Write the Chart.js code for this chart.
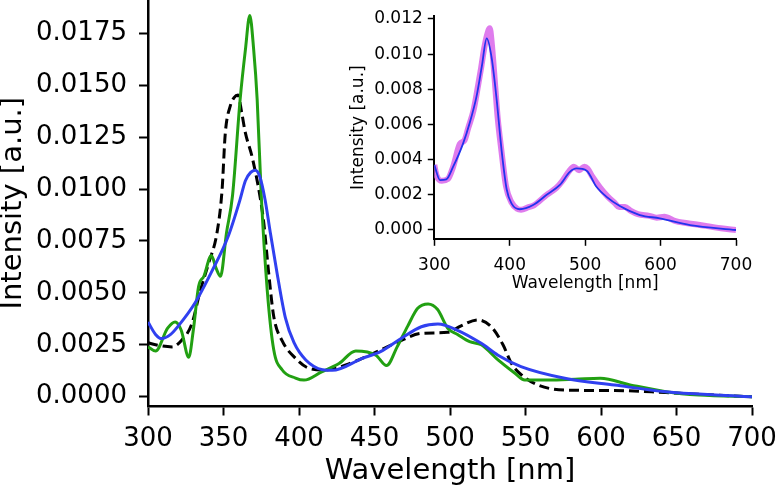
<!DOCTYPE html>
<html>
<head>
<meta charset="utf-8">
<script src="https://cdn.jsdelivr.net/npm/chart.js@4.4.1/dist/chart.umd.min.js"></script>
<style>
  html, body { margin: 0; padding: 0; background: #fff; }
  #wrap { position: relative; width: 776px; height: 487px; }
  #mainChart { position: absolute; left: 0; top: 0; }
  #insetChart { position: absolute; left: 340px; top: 0; }
</style>
</head>
<body>
<div id="wrap">
  <canvas id="mainChart" width="776" height="487"></canvas>
  <canvas id="insetChart" width="420" height="300"></canvas>
</div>
<script>
// main panel: green spectrum
const greenNm = [300, 305, 313, 318, 322, 327, 330, 333.5, 337, 342, 345, 348, 352, 356, 361, 364.5, 367.4, 370, 372.3, 375, 379, 383.3, 388.8, 397.7, 403.3, 415, 426.5, 437.6, 450.9, 458, 465, 472, 478.6, 485.5, 491.8, 498.5, 505, 513, 520.7, 531.8, 543, 549.5, 565, 583, 599.5, 620, 643, 665, 700];
const greenVal = [0.0024, 0.0022, 0.0033, 0.0036, 0.0032, 0.0019, 0.0032, 0.0053, 0.0058, 0.0068, 0.0062, 0.0058, 0.0079, 0.0097, 0.0143, 0.0167, 0.01835, 0.0167, 0.0143, 0.0097, 0.0051, 0.00225, 0.0013, 0.0009, 0.0008, 0.0012, 0.0016, 0.0022, 0.0020, 0.0015, 0.0024, 0.0034, 0.00426, 0.00447, 0.0042, 0.0033, 0.0030, 0.00265, 0.0025, 0.00177, 0.00113, 0.0008, 0.0008, 0.00084, 0.00089, 0.00056, 0.00024, 0.00008, 0.0];

// main panel: black dashed spectrum
const blackNm = [300, 305, 316, 322, 329, 334.6, 340, 345.7, 349, 351.2, 354.5, 357, 359.6, 362, 364.5, 368.9, 374.5, 376.7, 380, 383.3, 388.8, 397.7, 406.6, 417.7, 431, 453, 467.6, 481, 498.5, 507, 518.4, 527.3, 535.1, 540.7, 547.3, 558.4, 576, 609, 643, 675, 700];
const blackVal = [0.0026, 0.0025, 0.0024, 0.0027, 0.0035, 0.0051, 0.0064, 0.0079, 0.0099, 0.0127, 0.0140, 0.0144, 0.01453, 0.0137, 0.0127, 0.01156, 0.0095, 0.00835, 0.0059, 0.00385, 0.0027, 0.00185, 0.00137, 0.00129, 0.00153, 0.00222, 0.0027, 0.00305, 0.0031, 0.0034, 0.0037, 0.00337, 0.0025, 0.0016, 0.00105, 0.00056, 0.00032, 0.0003, 0.0002, 0.00008, 0.0];

// main panel: blue spectrum
const blueNm = [300, 305, 309, 315, 320, 331, 342, 353, 361, 364.5, 368, 371, 374, 377.5, 381, 385.6, 391, 396.7, 404.5, 415.6, 422, 442, 454, 467.6, 481, 492, 505, 520.7, 531.8, 547, 576, 609, 643, 676, 700];
const blueVal = [0.0036, 0.0030, 0.0028, 0.0030, 0.0034, 0.0045, 0.0060, 0.0077, 0.0095, 0.0104, 0.0108, 0.0109, 0.0106, 0.0095, 0.0079, 0.0059, 0.0038, 0.0026, 0.00177, 0.0013, 0.00127, 0.00185, 0.00217, 0.0028, 0.00337, 0.0035, 0.0032, 0.00257, 0.0020, 0.00145, 0.00089, 0.00056, 0.00024, 0.00008, 0.0];

// inset: thick violet (raw) and thin blue (smoothed)
const violetNm = [300, 303, 310, 318, 325, 334, 340, 345, 352, 358, 362, 366, 370, 373.5, 376, 380, 384, 389, 395, 402, 410, 415, 425, 432, 449, 462, 470, 478, 485, 492, 499, 503, 510, 520, 530, 540, 545, 553, 560, 570, 585, 595, 605, 620, 650, 680, 700];
const violetVal = [0.0037, 0.0031, 0.0028, 0.0029, 0.0036, 0.0049, 0.0051, 0.0058, 0.0068, 0.0082, 0.0092, 0.0103, 0.0111, 0.01148, 0.0107, 0.0086, 0.0064, 0.0045, 0.0025, 0.0016, 0.0012, 0.00115, 0.0013, 0.0014, 0.0020, 0.0024, 0.0028, 0.0033, 0.0036, 0.0034, 0.0036, 0.0035, 0.0030, 0.0024, 0.0019, 0.0015, 0.0013, 0.0013, 0.0011, 0.0009, 0.0008, 0.0007, 0.00075, 0.0005, 0.0003, 0.0001, 0.0];
const insetBlueNm = [300, 307.5, 316, 325, 338, 347, 356, 363, 369.5, 376, 382.7, 389.3, 396, 402.5, 413.5, 431, 449, 466.5, 479.7, 488.6, 502, 515, 528, 546, 572.5, 599, 639, 700];
const insetBlueVal = [0.0037, 0.00284, 0.00288, 0.0036, 0.0049, 0.0061, 0.0076, 0.0093, 0.0109, 0.0098, 0.0074, 0.0045, 0.0023, 0.0015, 0.00118, 0.00142, 0.0020, 0.00256, 0.0033, 0.0035, 0.00337, 0.00246, 0.0019, 0.00136, 0.00085, 0.00066, 0.00028, 0.0];

const mainXTicks = [300, 350, 400, 450, 500, 550, 600, 650, 700];
const mainYTicks = [0, 0.0025, 0.005, 0.0075, 0.01, 0.0125, 0.015, 0.0175];
const insetXTicks = [300, 400, 500, 600, 700];
const insetYTicks = [0, 0.002, 0.004, 0.006, 0.008, 0.01, 0.012];

const FONT = 'DejaVu Sans';
Chart.defaults.font.family = FONT;
Chart.defaults.color = '#000';

const pts = (xs, ys) => xs.map((x, i) => ({ x: x, y: ys[i] }));

// first dataset ends up on top in Chart.js
function lineSet(xs, ys, color, width, dash) {
  return {
    data: pts(xs, ys),
    borderColor: color,
    borderWidth: width,
    borderDash: dash || [],
    pointRadius: 0,
    fill: false,
    cubicInterpolationMode: 'monotone'
  };
}

function axis(cfg) {
  return {
    type: 'linear',
    min: cfg.min,
    max: cfg.max,
    afterBuildTicks: s => { s.ticks = cfg.ticks.map(v => ({ value: v })); },
    afterFit: s => {
      if (cfg.width) s.width = cfg.width;
      if (cfg.height) s.height = cfg.height;
      // no extra room for overhanging end labels
      s.paddingLeft = 0; s.paddingRight = 0; s.paddingTop = 0; s.paddingBottom = 0;
    },
    grid: { drawOnChartArea: false, drawTicks: true, tickLength: cfg.tickLen, tickWidth: cfg.tickW, tickColor: '#000' },
    border: { display: true, color: '#000', width: cfg.borderW },
    ticks: {
      autoSkip: false, maxRotation: 0, padding: cfg.pad,
      font: { size: cfg.tickSize, family: FONT }, color: '#000',
      callback: cfg.fmt
    },
    title: { display: true, text: cfg.title, color: '#000', font: { size: cfg.titleSize, family: FONT, lineHeight: cfg.titleLH }, padding: cfg.titlePad }
  };
}

const common = {
  responsive: false,
  animation: false,
  events: [],
  plugins: { legend: { display: false }, tooltip: { enabled: false } }
};

new Chart(document.getElementById('mainChart'), {
  type: 'line',
  data: {
    datasets: [
      lineSet(blueNm, blueVal, '#3040f0', 3),
      lineSet(greenNm, greenVal, '#22a012', 3),
      lineSet(blackNm, blackVal, '#000000', 3, [10, 5])
    ]
  },
  options: Object.assign({}, common, {
    layout: { padding: { left: 0, right: 24, top: 0, bottom: 0 } },
    scales: {
      x: axis({ min: 300, max: 700, ticks: mainXTicks, height: 80.5, tickLen: 9, tickW: 2, borderW: 2.5, pad: 8,
        tickSize: 26, fmt: v => String(v), title: 'Wavelength [nm]', titleSize: 29, titleLH: 1.05, titlePad: { top: 0, bottom: 0 } }),
      y: axis({ min: -0.00047, max: 0.0191, ticks: mainYTicks, width: 148, tickLen: 9, tickW: 2, borderW: 2.5, pad: 12,
        tickSize: 26, fmt: v => v.toFixed(4), title: 'Intensity [a.u.]', titleSize: 29, titleLH: 0.93, titlePad: { top: 0, bottom: 0 } })
    }
  })
});

new Chart(document.getElementById('insetChart'), {
  type: 'line',
  data: {
    datasets: [
      lineSet(insetBlueNm, insetBlueVal, '#2233ee', 1.8),
      lineSet(violetNm, violetVal, 'rgba(220,110,235,0.9)', 6)
    ]
  },
  options: Object.assign({}, common, {
    layout: { padding: { left: 0, right: 24, top: 16, bottom: 0 } },
    scales: {
      x: axis({ min: 300, max: 700, ticks: insetXTicks, height: 60.7, tickLen: 6.5, tickW: 1.5, borderW: 2, pad: 10,
        tickSize: 17, fmt: v => String(v), title: 'Wavelength [nm]', titleSize: 17, titleLH: 1.2, titlePad: { top: 0, bottom: 6 } }),
      y: axis({ min: -0.00053, max: 0.01217, ticks: insetYTicks, width: 94.3, tickLen: 6.5, tickW: 1.5, borderW: 2, pad: 5,
        tickSize: 17, fmt: v => v.toFixed(3), title: 'Intensity [a.u.]', titleSize: 17, titleLH: 1.2, titlePad: { top: 8, bottom: 0 } })
    }
  })
});
</script>
</body>
</html>
